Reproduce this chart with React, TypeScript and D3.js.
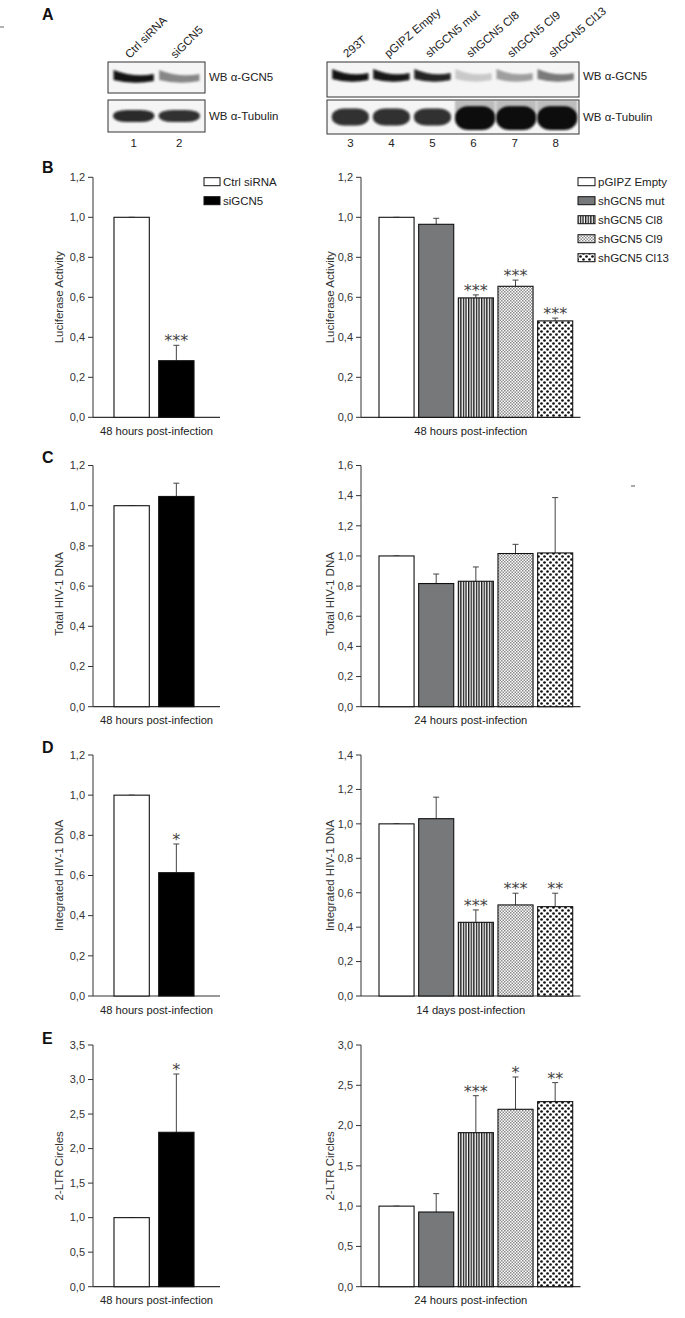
import React from "react";
import * as d3 from "d3";

// ---------- DATA ----------
const leftGroups = ["Ctrl siRNA", "siGCN5"];
const rightGroups = ["pGIPZ Empty", "shGCN5 mut", "shGCN5 Cl8", "shGCN5 Cl9", "shGCN5 Cl13"];

const lucLeft = [1.0, 0.283];
const lucLeftErr = [0, 0.077];
const lucLeftStars = ["", "***"];
const lucRight = [1.0, 0.965, 0.597, 0.655, 0.482];
const lucRightErr = [0, 0.03, 0.015, 0.031, 0.014];
const lucRightStars = ["", "", "***", "***", "***"];

const totLeft = [1.0, 1.046];
const totLeftErr = [0, 0.066];
const totLeftStars = ["", ""];
const totRight = [1.0, 0.817, 0.832, 1.016, 1.02];
const totRightErr = [0, 0.063, 0.095, 0.061, 0.367];
const totRightStars = ["", "", "", "", ""];

const intLeft = [1.0, 0.614];
const intLeftErr = [0, 0.143];
const intLeftStars = ["", "*"];
const intRight = [1.0, 1.03, 0.428, 0.529, 0.519];
const intRightErr = [0, 0.125, 0.072, 0.068, 0.078];
const intRightStars = ["", "", "***", "***", "**"];

const ltrLeft = [1.0, 2.236];
const ltrLeftErr = [0, 0.844];
const ltrLeftStars = ["", "*"];
const ltrRight = [1.0, 0.927, 1.912, 2.202, 2.297];
const ltrRightErr = [0, 0.228, 0.459, 0.401, 0.236];
const ltrRightStars = ["", "", "***", "*", "**"];

const ticks12 = [0, 0.2, 0.4, 0.6, 0.8, 1.0, 1.2];
const ticks14 = [0, 0.2, 0.4, 0.6, 0.8, 1.0, 1.2, 1.4];
const ticks16 = [0, 0.2, 0.4, 0.6, 0.8, 1.0, 1.2, 1.4, 1.6];
const ticks35 = [0, 0.5, 1.0, 1.5, 2.0, 2.5, 3.0, 3.5];
const ticks30 = [0, 0.5, 1.0, 1.5, 2.0, 2.5, 3.0];

// Western blot lanes (relative band intensities)
const blotLeftLanes = ["Ctrl siRNA", "siGCN5"];
const blotLeftNumbers = ["1", "2"];
const gcn5Left = [0.97, 0.45];
const tubLeft = [0.88, 0.85];
const blotRightLanes = ["293T", "pGIPZ Empty", "shGCN5 mut", "shGCN5 Cl8", "shGCN5 Cl9", "shGCN5 Cl13"];
const blotRightNumbers = ["3", "4", "5", "6", "7", "8"];
const gcn5Right = [0.97, 0.95, 0.9, 0.18, 0.35, 0.5];
const tubRight = [0.85, 0.85, 0.85, 1.0, 1.0, 1.0];

// ---------- STYLE / LAYOUT ----------
const FONT = "'Liberation Sans', Arial, Helvetica, sans-serif";
const STARFONT = "'DejaVu Sans', sans-serif";
const GRAY = "#76787a";
const leftFills = ["#ffffff", "#000000"];
const rightFills = ["#ffffff", GRAY, "url(#stripes)", "url(#checks)", "url(#dots)"];

const LEFT = { axisX: 93, axisEnd: 220, barRange: [109.3, 198.7], pi: 0.21, po: 0.105, ylabelX: 63 };
const RIGHT = { axisX: 361, axisEnd: 580.5, barRange: [376.7, 575], pi: 0.116, po: 0.058, ylabelX: 334 };

const fmt = (v: number) => d3.format(".1f")(v).replace(".", ",");

type PanelProps = {
  side: any;
  top: number;
  bottom: number;
  yMax: number;
  ticks: number[];
  groups: string[];
  values: number[];
  errs: number[];
  stars: string[];
  fills: string[];
  ylabel: string;
  xlabel: string;
  ylabelY?: number;
};

function BarPanel(p: PanelProps) {
  const s = p.side;
  const y = d3.scaleLinear().domain([0, p.yMax]).range([p.bottom, p.top]);
  const x = d3
    .scaleBand<string>()
    .domain(p.groups)
    .range(s.barRange)
    .paddingInner(s.pi)
    .paddingOuter(s.po);
  const bw = x.bandwidth();
  const ly = p.ylabelY ?? (p.top + p.bottom) / 2;
  return (
    <g>
      <line x1={s.axisX} x2={s.axisX} y1={y(p.yMax)} y2={y(0)} stroke="#333" strokeWidth={1} />
      <line x1={s.axisX} x2={s.axisEnd} y1={y(0)} y2={y(0)} stroke="#333" strokeWidth={1.2} />
      {p.ticks.map((t) => (
        <g key={t}>
          <line x1={s.axisX - 5} x2={s.axisX} y1={y(t)} y2={y(t)} stroke="#333" strokeWidth={1} />
          <text x={s.axisX - 8} y={y(t) + 3.8} textAnchor="end" fontSize={11} fill="#333" fontFamily={FONT}>
            {fmt(t)}
          </text>
        </g>
      ))}
      <text
        transform={`translate(${s.ylabelX},${ly}) rotate(-90)`}
        textAnchor="middle"
        fontSize={11.5}
        fill="#333"
        fontFamily={FONT}
      >
        {p.ylabel}
      </text>
      <text x={(s.axisX + s.axisEnd) / 2} y={y(0) + 17.5} textAnchor="middle" fontSize={11.2} fill="#222" fontFamily={FONT}>
        {p.xlabel}
      </text>
      {p.groups.map((g, i) => {
        const x0 = x(g)!;
        const cx = x0 + bw / 2;
        const top = y(p.values[i]);
        const et = y(p.values[i] + p.errs[i]);
        return (
          <g key={g}>
            <line x1={cx} x2={cx} y1={top} y2={et} stroke="#444" strokeWidth={1} />
            <line x1={cx - 3} x2={cx + 3} y1={et} y2={et} stroke="#444" strokeWidth={1} />
            <rect x={x0} y={top} width={bw} height={y(0) - top} fill={p.fills[i]} stroke="#111" strokeWidth={1.1} />
            {p.stars[i] ? (
              <text x={cx} y={et + 1} textAnchor="middle" fontSize={16} fill="#444" fontFamily={STARFONT}>
                {p.stars[i]}
              </text>
            ) : null}
          </g>
        );
      })}
    </g>
  );
}

function Legend({ items, fills, x, y0, step, bw }: any) {
  return (
    <g>
      {items.map((it: string, i: number) => {
        const cy = y0 + i * step;
        return (
          <g key={it}>
            <rect x={x} y={cy - 4} width={bw} height={8} fill={fills[i]} stroke="#111" strokeWidth={1} />
            <text x={x + bw + 3} y={cy + 4.1} fontSize={11.5} fill="#222" fontFamily={FONT}>
              {it}
            </text>
          </g>
        );
      })}
    </g>
  );
}

function Blot({ lanes, numbers, gcn5, tub, box, labelAngle, heavyTub }: any) {
  const x = d3.scaleBand<string>().domain(lanes).range([box.x0 + 2, box.x1 - 2]).padding(0.04);
  const bw = x.bandwidth();
  return (
    <g>
      {lanes.map((l: string) => (
        <text
          key={"lab" + l}
          transform={`translate(${x(l)! + bw / 2 + box.labDx},${box.labY}) rotate(${labelAngle})`}
          fontSize={11.5}
          fill="#222"
          fontFamily={FONT}
        >
          {l}
        </text>
      ))}
      <rect x={box.x0} y={box.t0} width={box.x1 - box.x0} height={box.b0 - box.t0} fill="#f5f5f5" stroke="#333" strokeWidth={1} />
      <rect x={box.x0} y={box.t1} width={box.x1 - box.x0} height={box.b1 - box.t1} fill="#f5f5f5" stroke="#333" strokeWidth={1} />
      <g clipPath={`url(#${box.id}a)`}>
        {lanes.map((l: string, i: number) => {
          const x0 = x(l)! + bw * 0.04;
          const w = bw * 0.92;
          const cy = box.gcy;
          return (
            <g key={"g" + l} filter="url(#blur)">
              <path
                d={`M${x0},${cy - 6} Q${x0 + w / 2},${cy + 2} ${x0 + w},${cy - 2} L${x0 + w},${cy + 5} Q${x0 + w / 2},${cy + 9} ${x0},${cy + 4} Z`}
                fill="#0a0a0a"
                fillOpacity={gcn5[i]}
              />
            </g>
          );
        })}
      </g>
      <g clipPath={`url(#${box.id}b)`}>
        {lanes.map((l: string, i: number) => {
          const heavy = heavyTub && tub[i] >= 1;
          const x0 = x(l)! + bw * 0.03;
          const w = bw * (heavy ? 1.02 : 0.94);
          const cy = box.tcy + (heavy ? 1 : 0);
          const h = heavy ? 24 : box.th;
          return (
            <g key={"t" + l} filter="url(#blur)">
              {heavy ? <rect x={x0} y={box.t1} width={w} height={14} fill="#555" fillOpacity={0.35} /> : null}
              <rect x={x0} y={cy - h / 2} width={w} height={h} rx={w / 3} ry={h / 2.2} fill="#0c0c0c" fillOpacity={tub[i]} />
            </g>
          );
        })}
      </g>
      <text x={box.x1 + 4} y={box.gcy + 5} fontSize={11.5} fill="#222" fontFamily={FONT}>
        WB α-GCN5
      </text>
      <text x={box.x1 + 4} y={box.tcy + 4} fontSize={11.5} fill="#222" fontFamily={FONT}>
        WB α-Tubulin
      </text>
      {lanes.map((l: string, i: number) => (
        <text key={"n" + l} x={x(l)! + bw / 2} y={147} textAnchor="middle" fontSize={11.5} fill="#222" fontFamily={FONT}>
          {numbers[i]}
        </text>
      ))}
      <defs>
        <clipPath id={box.id + "a"}>
          <rect x={box.x0 + 0.5} y={box.t0 + 0.5} width={box.x1 - box.x0 - 1} height={box.b0 - box.t0 - 1} />
        </clipPath>
        <clipPath id={box.id + "b"}>
          <rect x={box.x0 + 0.5} y={box.t1 + 0.5} width={box.x1 - box.x0 - 1} height={box.b1 - box.t1 - 1} />
        </clipPath>
      </defs>
    </g>
  );
}

const Letter = ({ t, y }: any) => (
  <text x={42} y={y} fontSize={16} fontWeight="bold" fill="#111" fontFamily={FONT}>
    {t}
  </text>
);

export default function App() {
  const rows = {
    B: { top: 177.3, bottom: 417.3 },
    C: { top: 465.5, bottom: 706.7 },
    D: { top: 755, bottom: 996 },
    E: { top: 1045, bottom: 1286.7 },
  };
  return (
    <svg
      width={685}
      height={1318}
      viewBox="0 0 685 1318"
      style={{ position: "absolute", left: 0, top: 0, background: "#fff" }}
    >
      <defs>
        <pattern id="stripes" width="2.6" height="10" patternUnits="userSpaceOnUse">
          <rect width="2.6" height="10" fill="#fff" />
          <rect width="1.35" height="10" fill="#1a1a1a" />
        </pattern>
        <pattern id="checks" width="3" height="3" patternUnits="userSpaceOnUse">
          <rect width="3" height="3" fill="#fff" />
          <rect width="1.5" height="1.5" fill="#8a8a8a" />
          <rect x="1.5" y="1.5" width="1.5" height="1.5" fill="#8a8a8a" />
        </pattern>
        <pattern id="dots" width="6" height="6" patternUnits="userSpaceOnUse">
          <rect width="6" height="6" fill="#fff" />
          <circle cx="1.5" cy="1.5" r="1.35" fill="#111" />
          <circle cx="4.5" cy="4.5" r="1.35" fill="#111" />
        </pattern>
        <filter id="blur" x="-20%" y="-50%" width="140%" height="200%">
          <feGaussianBlur stdDeviation="1.3" />
        </filter>
      </defs>
      <rect width={685} height={1318} fill="#fff" />
      <line x1={0} x2={4} y1={27} y2={27} stroke="#666" strokeWidth={1} />

      {/* Panel A */}
      <Letter t="A" y={20} />
      <Blot
        lanes={blotLeftLanes}
        numbers={blotLeftNumbers}
        gcn5={gcn5Left}
        tub={tubLeft}
        labelAngle={-45}
        heavyTub={false}
        box={{ id: "bl", x0: 108, x1: 205, t0: 62, b0: 93, t1: 100, b1: 132, gcy: 76, tcy: 116, th: 12, labY: 59, labDx: -4 }}
      />
      <Blot
        lanes={blotRightLanes}
        numbers={blotRightNumbers}
        gcn5={gcn5Right}
        tub={tubRight}
        labelAngle={-40}
        heavyTub={true}
        box={{ id: "br", x0: 327, x1: 579, t0: 62, b0: 97, t1: 100, b1: 134, gcy: 75, tcy: 117, th: 17, labY: 58, labDx: -3 }}
      />

      {/* Panel B */}
      <Letter t="B" y={173} />
      <BarPanel side={LEFT} {...rows.B} yMax={1.2} ticks={ticks12} groups={leftGroups} values={lucLeft} errs={lucLeftErr}
        stars={lucLeftStars} fills={leftFills} ylabel="Luciferase Activity" xlabel="48 hours post-infection" />
      <BarPanel side={RIGHT} {...rows.B} yMax={1.2} ticks={ticks12} groups={rightGroups} values={lucRight} errs={lucRightErr}
        stars={lucRightStars} fills={rightFills} ylabel="Luciferase Activity" xlabel="48 hours post-infection" />
      <Legend items={leftGroups} fills={leftFills} x={204} y0={181.7} step={19} bw={16} />
      <Legend items={rightGroups} fills={rightFills} x={578} y0={181.7} step={19} bw={17} />

      {/* Panel C */}
      <Letter t="C" y={463} />
      <BarPanel side={LEFT} {...rows.C} yMax={1.2} ticks={ticks12} groups={leftGroups} values={totLeft} errs={totLeftErr}
        stars={totLeftStars} fills={leftFills} ylabel="Total HIV-1 DNA" xlabel="48 hours post-infection" ylabelY={594} />
      <BarPanel side={RIGHT} {...rows.C} yMax={1.6} ticks={ticks16} groups={rightGroups} values={totRight} errs={totRightErr}
        stars={totRightStars} fills={rightFills} ylabel="Total HIV-1 DNA" xlabel="24 hours post-infection" ylabelY={594} />
      <line x1={631} x2={635} y1={486} y2={486} stroke="#555" strokeWidth={1} />

      {/* Panel D */}
      <Letter t="D" y={752.5} />
      <BarPanel side={LEFT} {...rows.D} yMax={1.2} ticks={ticks12} groups={leftGroups} values={intLeft} errs={intLeftErr}
        stars={intLeftStars} fills={leftFills} ylabel="Integrated HIV-1 DNA" xlabel="48 hours post-infection" />
      <BarPanel side={RIGHT} {...rows.D} yMax={1.4} ticks={ticks14} groups={rightGroups} values={intRight} errs={intRightErr}
        stars={intRightStars} fills={rightFills} ylabel="Integrated HIV-1 DNA" xlabel="14 days post-infection" />

      {/* Panel E */}
      <Letter t="E" y={1044} />
      <BarPanel side={LEFT} {...rows.E} yMax={3.5} ticks={ticks35} groups={leftGroups} values={ltrLeft} errs={ltrLeftErr}
        stars={ltrLeftStars} fills={leftFills} ylabel="2-LTR Circles" xlabel="48 hours post-infection" />
      <BarPanel side={RIGHT} {...rows.E} yMax={3.0} ticks={ticks30} groups={rightGroups} values={ltrRight} errs={ltrRightErr}
        stars={ltrRightStars} fills={rightFills} ylabel="2-LTR Circles" xlabel="24 hours post-infection" />
    </svg>
  );
}
